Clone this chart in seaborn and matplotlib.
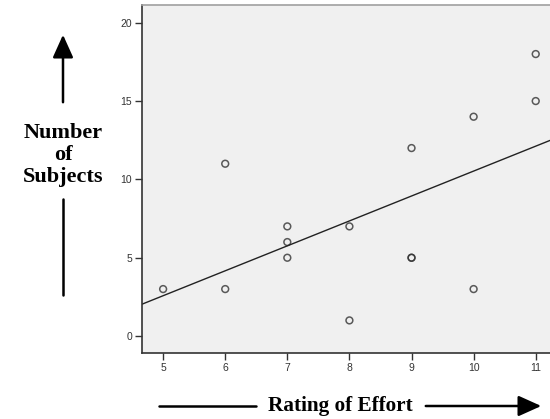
import matplotlib
matplotlib.use("Agg")
import matplotlib.pyplot as plt
import seaborn as sns
import pandas as pd

# Data (the point at (9, 5) appears twice)
effort = [5, 6, 6, 7, 7, 7, 8, 8, 9, 9, 9, 10, 10, 11, 11]
subjects = [3, 3, 11, 5, 6, 7, 1, 7, 5, 5, 12, 3, 14, 15, 18]
x_ticks = [5, 6, 7, 8, 9, 10, 11]
y_ticks = [0, 5, 10, 15, 20]

df = pd.DataFrame({"effort": effort, "subjects": subjects})

sns.set_style("white")
fig = plt.figure(figsize=(5.5, 4.19), dpi=100)
ax = fig.add_axes([142 / 550, 1 - 353 / 419, 408 / 550, 348 / 419])
ax.set_facecolor("#f0f0f0")
ax.set_xlim(4.66, 11.23)
ax.set_ylim(-1.08, 21.13)

sns.regplot(data=df, x="effort", y="subjects", ax=ax, ci=None, truncate=False,
            scatter_kws=dict(s=24, facecolors="none", edgecolors="#333333", linewidths=1.1),
            line_kws=dict(color="#222222", lw=1.0))
ax.set_xlim(4.66, 11.23)
ax.set_ylim(-1.08, 21.13)

ax.set_xticks(x_ticks)
ax.set_yticks(y_ticks)
ax.tick_params(axis="both", which="both", direction="out", length=5, width=1,
               bottom=True, left=True,
               color="#333333", labelsize=7.5, labelcolor="#333333", pad=2)
for lab in ax.get_xticklabels() + ax.get_yticklabels():
    lab.set_family(["Liberation Sans", "DejaVu Sans"])
ax.set_xlabel("")
ax.set_ylabel("")
for side in ["left", "bottom"]:
    ax.spines[side].set_color("#333333")
    ax.spines[side].set_linewidth(1.2)
ax.spines["top"].set_color("#a0a0a0")
ax.spines["top"].set_linewidth(1.2)
ax.spines["right"].set_visible(False)

W, H = 550, 419
def fx(px):
    return px / W
def fy(py):
    return 1 - py / H

serif = ["Liberation Serif", "DejaVu Serif"]
fig.text(fx(63), fy(155), "Number\nof\nSubjects", ha="center", va="center",
         fontsize=16, fontweight="bold", family=serif, linespacing=1.15, color="black")
fig.text(fx(340), fy(406), "Rating of Effort", ha="center", va="center",
         fontsize=15.3, fontweight="bold", family=serif, color="black")

arrow_kw = dict(arrowstyle="-|>,head_length=1.0,head_width=0.45", color="black", lw=1.8)
# upward arrow
fig.add_artist(matplotlib.patches.FancyArrowPatch((fx(63), fy(105)), (fx(63), fy(32)),
               transform=fig.transFigure, mutation_scale=14, **arrow_kw))
# lower plain line
fig.add_artist(matplotlib.lines.Line2D([fx(63), fx(63)], [fy(199), fy(295)],
               transform=fig.transFigure, color="black", lw=1.8))
# bottom left plain line
fig.add_artist(matplotlib.lines.Line2D([fx(159), fx(256)], [fy(406), fy(406)],
               transform=fig.transFigure, color="black", lw=1.8))
# right arrow
fig.add_artist(matplotlib.patches.FancyArrowPatch((fx(423), fy(406)), (fx(544), fy(406)),
               transform=fig.transFigure, mutation_scale=14, **arrow_kw))

fig.savefig("out.png", dpi=100, facecolor="white")
